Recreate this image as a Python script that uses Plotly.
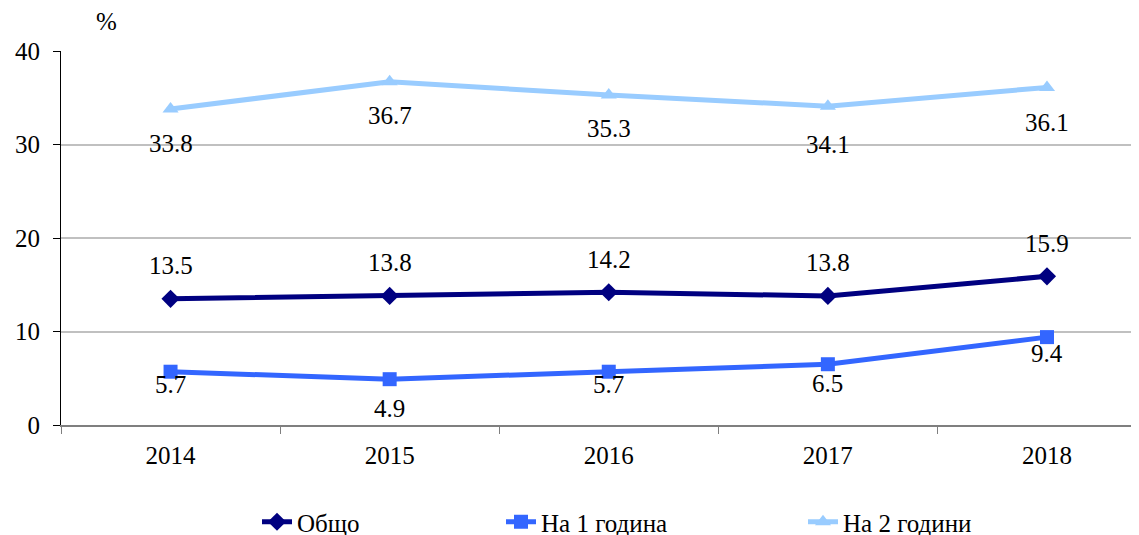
import plotly.graph_objects as go

years = ["2014", "2015", "2016", "2017", "2018"]
total = [13.5, 13.8, 14.2, 13.8, 15.9]
one_year = [5.7, 4.9, 5.7, 6.5, 9.4]
two_years = [33.8, 36.7, 35.3, 34.1, 36.1]
names = ["Общо", "На 1 година", "На 2 години"]

# label pixel offsets (style, not data)
off_total = [33, 33, 33, 33, 33]
off_one = [-13, -29, -13, -19, -16]
off_two = [-35, -34, -34, -38, -35]

FONT = "Liberation Serif, Times New Roman, serif"
FS = 25
c_total = "#000080"
c_one = "#3366FF"
c_two = "#99CCFF"

# page body has an 8px margin; compensate so the plot sits where the reference has it
PAD = 8
PL, PT, PB = 61 - PAD, 51 - PAD, 110
W = 1078
H = 374

fig = go.Figure()
series = [
    (total, names[0], c_total, "diamond", 14, off_total, "legend"),
    (one_year, names[1], c_one, "square", 14, off_one, "legend2"),
    (two_years, names[2], c_two, "triangle-up", 14, off_two, "legend3"),
]
for vals, nm, col, sym, ms, offs, lg in series:
    fig.add_trace(go.Scatter(
        x=years, y=vals, name=nm, mode="lines+markers",
        line=dict(color=col, width=5),
        marker=dict(symbol=sym, size=ms, color=col),
        legend=lg,
    ))
    for i, (yv, o) in enumerate(zip(vals, offs)):
        fig.add_annotation(x=i, y=yv, xref="x", yref="y", text=f"{yv:.1f}", showarrow=False,
                           xanchor="center", yanchor="middle",
                           yshift=o, font=dict(family=FONT, size=FS, color="#000"))

fig.add_annotation(xref="paper", yref="paper", x=(106 - 61) / W, y=1 + (51 - 22) / H,
                   xanchor="center", yanchor="middle",
                   text="%", showarrow=False, font=dict(family=FONT, size=FS, color="#000"))

leg_common = dict(orientation="h", yanchor="middle", y=-(522 - 425) / H, xanchor="left",
                  font=dict(family=FONT, size=FS, color="#000"), bgcolor="rgba(0,0,0,0)")
fig.update_layout(
    width=1139 - PAD, height=535 - PAD,
    margin=dict(l=PL, r=0, t=PT, b=PB, autoexpand=False),
    plot_bgcolor="white", paper_bgcolor="white",
    font=dict(family=FONT, size=FS, color="#000"),
    legend=dict(x=(257 - 61) / W, **leg_common),
    legend2=dict(x=(501 - 61) / W, **leg_common),
    legend3=dict(x=(803 - 61) / W, **leg_common),
    showlegend=True,
)
fig.update_xaxes(
    type="category", range=[-0.5, 4.42], automargin=False,
    showline=True, linecolor="#7f7f7f", linewidth=2,
    ticks="outside", tickson="boundaries", ticklen=7, tickcolor="#7f7f7f", tickwidth=1,
    showgrid=False, ticklabelstandoff=7,
    tickfont=dict(family=FONT, size=FS, color="#000"),
)
fig.update_yaxes(
    range=[0, 40], tickvals=[0, 10, 20, 30, 40], automargin=False,
    showline=True, linecolor="#000", linewidth=1,
    ticks="outside", ticklen=7, tickcolor="#000",
    showgrid=True, gridcolor="#c0c0c0", gridwidth=2,
    zeroline=False, ticklabelstandoff=8,
    tickfont=dict(family=FONT, size=FS, color="#000"),
)
fig.write_html("out.html")
